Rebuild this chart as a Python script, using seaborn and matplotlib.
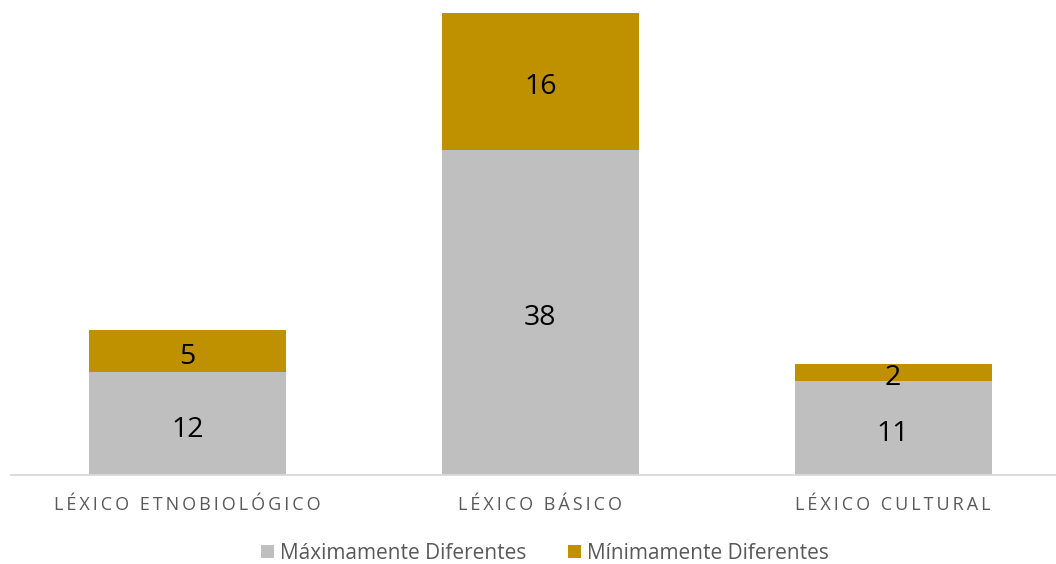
import matplotlib
matplotlib.use("Agg")
import matplotlib.pyplot as plt
import seaborn as sns
import numpy as np
from matplotlib.patches import Patch

categories = ["LÉXICO ETNOBIOLÓGICO", "LÉXICO BÁSICO", "LÉXICO CULTURAL"]
maximamente = [12, 38, 11]
minimamente = [5, 16, 2]
series_names = ["Máximamente Diferentes", "Mínimamente Diferentes"]

GRAY = "#BFBFBF"
GOLD = "#BF9000"
TEXT = "#595959"

sns.set_theme(style="white")
plt.rcParams["font.family"] = ["Open Sans", "DejaVu Sans"]


def spaced(label):
    # widen letter spacing of the category labels
    return "\u2009".join(label)


W, H = 1056, 564
fig = plt.figure(figsize=(W / 100, H / 100), dpi=100)
left, right_px, base_px, top_px = 11, 1056, 475, 13
ax = fig.add_axes([left / W, 1 - base_px / H, (right_px - left) / W, (base_px - top_px) / H])

pos = np.arange(len(categories))
bar_w = 0.558
sns.barplot(x=pos, y=maximamente, color=GRAY, width=bar_w, ax=ax,
            saturation=1, native_scale=True, linewidth=0)
ax.bar(pos, minimamente, bottom=maximamente, color=GOLD, width=bar_w, linewidth=0)

for cont in ax.containers:
    labels = ax.bar_label(cont, label_type="center", fontsize=20.5, color="black")
    for t in labels:
        t.xyann = (0, -4.3)

ax.set_xlim(-0.5, 2.5 - 13.5 / 353)
ax.set_ylim(0, 54)
ax.set_xticks(pos)
ax.set_xticklabels([spaced(c) for c in categories], fontsize=13, color=TEXT)
ax.tick_params(axis="x", length=0, pad=15)
ax.set_yticks([])
ax.set_xlabel("")
ax.set_ylabel("")
for s in ["top", "right", "left"]:
    ax.spines[s].set_visible(False)
ax.spines["bottom"].set_color("#D9D9D9")
ax.spines["bottom"].set_linewidth(1.3)

handles = [Patch(facecolor=GRAY, edgecolor="none"), Patch(facecolor=GOLD, edgecolor="none")]
fig.legend(handles, series_names, loc="center", bbox_to_anchor=(545 / W, 1 - 553.5 / H),
           ncol=2, frameon=False, fontsize=15, handlelength=0.6, handleheight=0.6,
           handletextpad=0.3, columnspacing=2.0, labelcolor=TEXT,
           borderpad=0.1, borderaxespad=0.0)

fig.savefig("out.png", dpi=100)
